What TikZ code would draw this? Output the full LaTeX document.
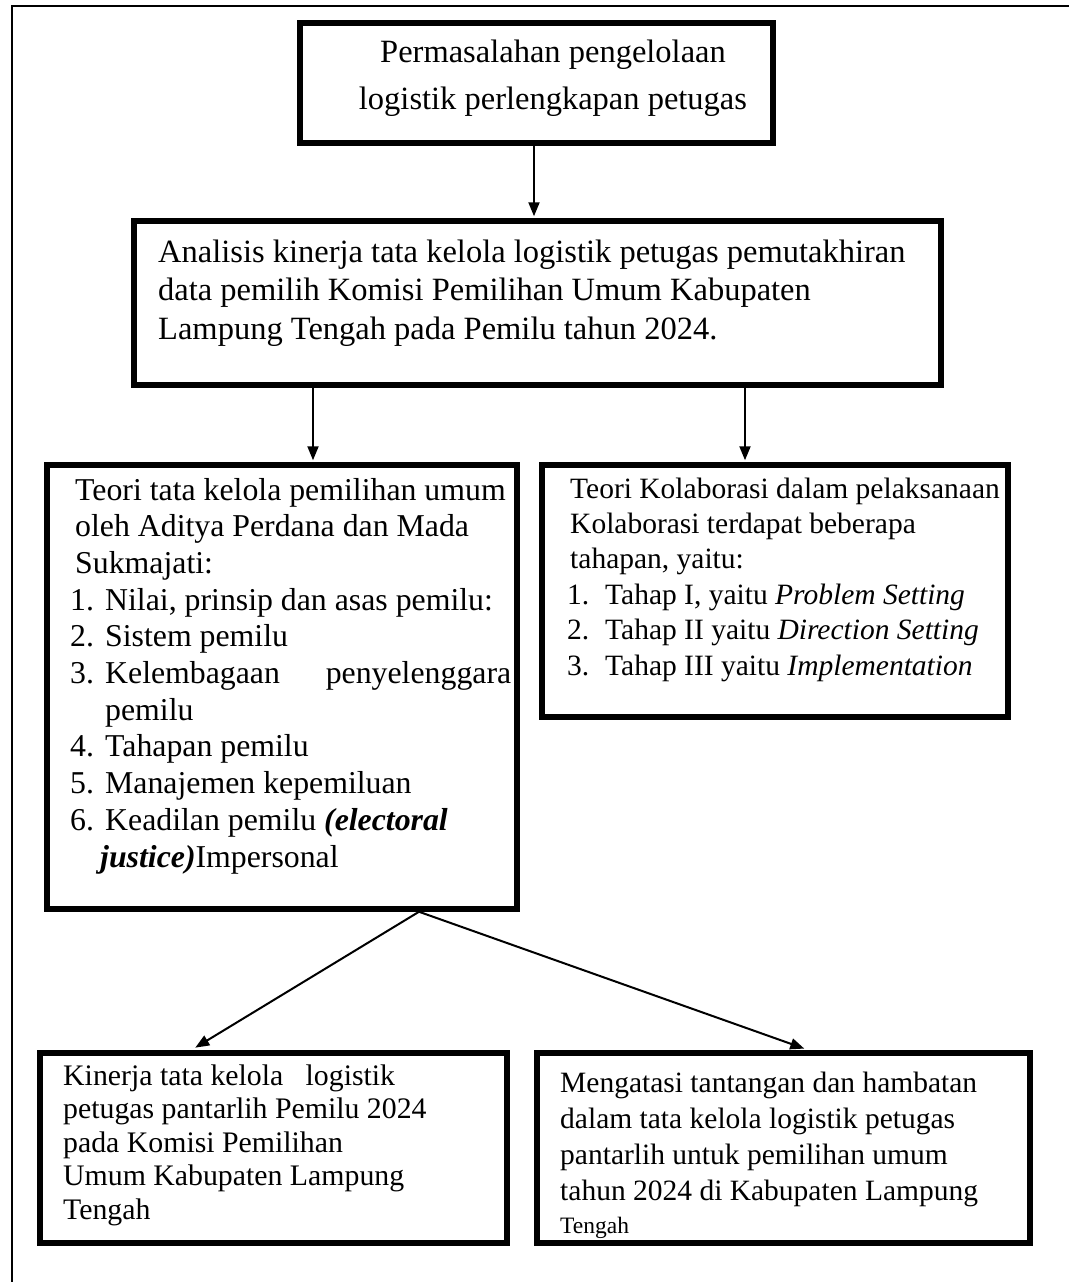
\documentclass[tikz,border=0pt]{standalone}
\usepackage{fontspec}
\setmainfont{Liberation Serif}
\usetikzlibrary{arrows.meta}
\newcommand\lstnum[2]{\makebox[#1][l]{#2}}
\begin{document}
\begin{tikzpicture}[x=1pt,y=-1pt,
  box/.style={draw, line width=5.5pt, rectangle, inner sep=0pt},
  arr/.style={line width=2pt, -{Triangle[length=14pt,width=11pt]}, shorten >=2pt},
  txt/.style={inner sep=0pt, anchor=base west},
  frame/.style={line width=2.5pt}]
\useasboundingbox (0,0) rectangle (1068,1282);
% outer frame (right and bottom edges lie outside the picture)
\draw[frame] (12,1300) -- (12,6) -- (1080,6);

% boxes
\node[box, minimum width=473pt, minimum height=120pt] (b1) at (536.5,83) {};
\node[box, minimum width=807pt, minimum height=164pt] (b2) at (537.5,303) {};
\node[box, minimum width=470pt, minimum height=444pt] (b3) at (282,687) {};
\node[box, minimum width=466pt, minimum height=252pt] (b4) at (775,591) {};
\node[box, minimum width=467pt, minimum height=190pt] (b5) at (273.5,1148) {};
\node[box, minimum width=493pt, minimum height=190pt] (b6) at (783.5,1148) {};

% texts
\node[inner sep=0pt, anchor=base] (t1) at (553,62) {\parbox[t]{460pt}{\centering\fontsize{32.5}{47}\selectfont
Permasalahan pengelolaan\\logistik perlengkapan petugas}};

\node[txt] (t2) at (158,262) {\parbox[t]{775pt}{\raggedright\fontsize{32.5}{38.5}\selectfont
Analisis kinerja tata kelola logistik petugas pemutakhiran\\
data pemilih Komisi Pemilihan Umum Kabupaten\\
Lampung Tengah pada Pemilu tahun 2024.}};

\node[txt] (t3) at (70,500) {\parbox[t]{441pt}{\raggedright\fontsize{31.8}{36.7}\selectfont
\hspace*{5pt}Teori tata kelola pemilihan umum\\
\hspace*{5pt}oleh Aditya Perdana dan Mada\\
\hspace*{5pt}Sukmajati:\\
\lstnum{35pt}{1.}Nilai, prinsip dan asas pemilu:\\
\lstnum{35pt}{2.}Sistem pemilu\\
\lstnum{35pt}{3.}Kelembagaan\hfill penyelenggara\\
\hspace*{35pt}pemilu\\
\lstnum{35pt}{4.}Tahapan pemilu\\
\lstnum{35pt}{5.}Manajemen kepemiluan\\
\lstnum{35pt}{6.}Keadilan pemilu \textbf{\textit{(electoral}}\\
\hspace*{30pt}\textbf{\textit{justice)}}Impersonal}};

\node[txt] (t4) at (567,498) {\parbox[t]{440pt}{\raggedright\fontsize{29.5}{35.4}\selectfont
\hspace*{3pt}Teori Kolaborasi dalam pelaksanaan\\
\hspace*{3pt}Kolaborasi terdapat beberapa\\
\hspace*{3pt}tahapan, yaitu:\\
\lstnum{38pt}{1.}Tahap I, yaitu \textit{Problem Setting}\\
\lstnum{38pt}{2.}Tahap II yaitu \textit{Direction Setting}\\
\lstnum{38pt}{3.}Tahap III yaitu \textit{Implementation}}};

\node[txt] (t5) at (63,1085) {\parbox[t]{440pt}{\raggedright\fontsize{29.8}{33.5}\selectfont
Kinerja tata kelola~~~logistik\\
petugas pantarlih Pemilu 2024\\
pada Komisi Pemilihan\\
Umum Kabupaten Lampung\\
Tengah}};

\node[txt] (t6) at (560,1092) {\parbox[t]{465pt}{\raggedright\fontsize{29.5}{36}\selectfont
Mengatasi tantangan dan hambatan\\
dalam tata kelola logistik petugas\\
pantarlih untuk pemilihan umum\\
tahun 2024 di Kabupaten Lampung\\[-3pt]
{\fontsize{23.5}{28}\selectfont Tengah}}};

% connector columns
\coordinate (ca) at (534,0);
\coordinate (cb) at (313,0);
\coordinate (cc) at (745,0);
\coordinate (cd) at (419,0);
\coordinate (ce) at (191,0);
\coordinate (cf) at (809,0);

\draw[arr] (b1.south -| ca) -- (b2.north -| ca);
\draw[arr] (b2.south -| cb) -- (b3.north -| cb);
\draw[arr] (b2.south -| cc) -- (b4.north -| cc);
\draw[arr, shorten >=5pt] (b3.south -| cd) -- (b5.north -| ce);
\draw[arr, shorten >=5pt] (b3.south -| cd) -- (b6.north -| cf);
\end{tikzpicture}
\end{document}
